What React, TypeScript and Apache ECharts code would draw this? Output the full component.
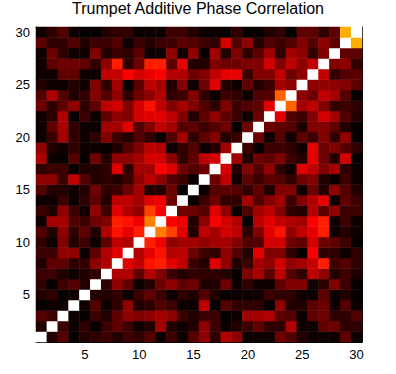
import React, { useEffect, useRef } from "react";
import * as echarts from "echarts";

const titleText = "Trumpet Additive Phase Correlation";

const categories = [
  "1", "2", "3", "4", "5", "6", "7", "8", "9", "10",
  "11", "12", "13", "14", "15", "16", "17", "18", "19", "20",
  "21", "22", "23", "24", "25", "26", "27", "28", "29", "30",
];

const tickLabels = ["5", "10", "15", "20", "25", "30"];

const diagonalValue = 1;

// Lower triangle of the symmetric correlation matrix: row r holds columns 1..r-1
const lowerRows: number[][] = [
  [],
  [0.05],
  [0.12, 0.09],
  [0.01, 0.02, 0.02],
  [0.05, 0.07, 0.01, 0.02],
  [0.07, 0.01, 0.09, 0.12, 0.05],
  [0.09, 0.09, 0.05, 0.02, 0.05, 0.07],
  [0.05, 0.14, 0.14, 0.07, 0.07, 0.21, 0.26],
  [0.09, 0.09, 0.21, 0.21, 0.02, 0.14, 0.26, 0.33],
  [0.07, 0.02, 0.19, 0.05, 0.09, 0.02, 0.14, 0.28, 0.26],
  [0.12, 0.05, 0.21, 0.07, 0.14, 0.05, 0.26, 0.40, 0.34, 0.42],
  [0.02, 0.24, 0.24, 0.12, 0.09, 0.16, 0.19, 0.42, 0.40, 0.35, 0.56],
  [0.09, 0.05, 0.21, 0.09, 0.02, 0.21, 0.09, 0.33, 0.26, 0.21, 0.47, 0.37],
  [0.02, 0.02, 0.09, 0.02, 0.07, 0.14, 0.05, 0.28, 0.28, 0.24, 0.33, 0.35, 0.16],
  [0.12, 0.05, 0.05, 0.02, 0.05, 0.16, 0.07, 0.09, 0.16, 0.24, 0.05, 0.05, 0.16, 0.01],
  [0.21, 0.21, 0.09, 0.28, 0.12, 0.05, 0.07, 0.05, 0.09, 0.21, 0.28, 0.21, 0.12, 0.09, 0.02],
  [0.07, 0.09, 0.09, 0.01, 0.05, 0.05, 0.07, 0.33, 0.07, 0.24, 0.24, 0.37, 0.33, 0.16, 0.12, 0.16],
  [0.26, 0.02, 0.01, 0.12, 0.01, 0.16, 0.05, 0.21, 0.21, 0.24, 0.31, 0.31, 0.21, 0.07, 0.14, 0.28, 0.31],
  [0.21, 0.05, 0.02, 0.07, 0.02, 0.02, 0.01, 0.05, 0.12, 0.19, 0.28, 0.26, 0.02, 0.07, 0.12, 0.02, 0.05, 0.24],
  [0.02, 0.09, 0.24, 0.07, 0.02, 0.07, 0.19, 0.09, 0.05, 0.12, 0.07, 0.01, 0.12, 0.24, 0.07, 0.14, 0.19, 0.05, 0.09],
  [0.02, 0.14, 0.24, 0.07, 0.02, 0.02, 0.24, 0.24, 0.33, 0.12, 0.19, 0.28, 0.24, 0.12, 0.14, 0.09, 0.12, 0.16, 0.01, 0.16],
  [0.02, 0.07, 0.26, 0.01, 0.09, 0.02, 0.14, 0.21, 0.19, 0.31, 0.33, 0.33, 0.28, 0.19, 0.05, 0.14, 0.21, 0.14, 0.09, 0.02, 0.16],
  [0.16, 0.07, 0.14, 0.21, 0.07, 0.14, 0.28, 0.31, 0.19, 0.31, 0.40, 0.28, 0.19, 0.24, 0.19, 0.12, 0.07, 0.19, 0.09, 0.12, 0.14, 0.33],
  [0.12, 0.26, 0.12, 0.05, 0.07, 0.19, 0.12, 0.21, 0.07, 0.16, 0.21, 0.26, 0.07, 0.09, 0.19, 0.07, 0.02, 0.09, 0.07, 0.02, 0.12, 0.12, 0.52],
  [0.05, 0.02, 0.02, 0.05, 0.02, 0.19, 0.07, 0.24, 0.01, 0.14, 0.28, 0.24, 0.05, 0.19, 0.02, 0.16, 0.33, 0.05, 0.02, 0.14, 0.05, 0.09, 0.24, 0.21],
  [0.02, 0.02, 0.14, 0.14, 0.02, 0.02, 0.28, 0.29, 0.37, 0.31, 0.34, 0.37, 0.26, 0.26, 0.16, 0.19, 0.28, 0.34, 0.34, 0.09, 0.19, 0.19, 0.28, 0.16, 0.21],
  [0.02, 0.14, 0.16, 0.16, 0.14, 0.07, 0.21, 0.42, 0.07, 0.16, 0.42, 0.42, 0.14, 0.34, 0.05, 0.05, 0.19, 0.16, 0.16, 0.19, 0.19, 0.31, 0.19, 0.28, 0.21, 0.28],
  [0.02, 0.16, 0.07, 0.02, 0.02, 0.19, 0.05, 0.09, 0.07, 0.14, 0.02, 0.02, 0.21, 0.02, 0.21, 0.01, 0.24, 0.05, 0.19, 0.07, 0.14, 0.24, 0.07, 0.24, 0.21, 0.07, 0.19],
  [0.14, 0.07, 0.07, 0.12, 0.05, 0.09, 0.09, 0.12, 0.02, 0.09, 0.05, 0.09, 0.09, 0.14, 0.12, 0.09, 0.07, 0.31, 0.12, 0.21, 0.05, 0.12, 0.09, 0.12, 0.19, 0.12, 0.21, 0.14],
  [0.02, 0.07, 0.12, 0.02, 0.01, 0.01, 0.05, 0.07, 0.07, 0.01, 0.02, 0.02, 0.09, 0.09, 0.05, 0.02, 0.02, 0.01, 0.07, 0.01, 0.01, 0.05, 0.07, 0.01, 0.14, 0.14, 0.07, 0.14, 0.63],
];

// MATLAB "hot" colormap, evenly spaced stops
const hotColors = [
  "#000000", "#550000", "#aa0000", "#ff0000", "#ff5500",
  "#ffaa00", "#ffff00", "#ffff80", "#ffffff",
];

function buildCells(): [number, number, number][] {
  const cells: [number, number, number][] = [];
  for (let r = 0; r < categories.length; r++) {
    for (let c = 0; c < categories.length; c++) {
      let v: number;
      if (r === c) v = diagonalValue;
      else if (c < r) v = lowerRows[r][c];
      else v = lowerRows[c][r];
      cells.push([c, r, v]);
    }
  }
  return cells;
}

const FONT = "Liberation Sans, Arial, Helvetica, sans-serif";

export default function App() {
  const ref = useRef<HTMLDivElement>(null);

  useEffect(() => {
    if (!ref.current) return;
    const chart = echarts.init(ref.current, undefined, { renderer: "svg" });
    const showTick = (_i: number, v: string) => tickLabels.includes(v);
    const baseAxis = {
      type: "category" as const,
      data: categories,
      axisLine: { show: true, onZero: false, lineStyle: { color: "#000", width: 1 } },
      axisTick: {
        show: true,
        inside: true,
        length: 4,
        alignWithLabel: true,
        interval: showTick,
        lineStyle: { color: "#000", width: 1 },
      },
      splitLine: { show: false },
      splitArea: { show: false },
    };
    chart.setOption({
      animation: false,
      backgroundColor: "#ffffff",
      title: {
        text: titleText,
        left: "center",
        top: 0,
        padding: 0,
        textStyle: { fontFamily: FONT, fontSize: 16, fontWeight: "normal", color: "#000" },
      },
      grid: { left: 36, top: 27, width: 326, height: 315, containLabel: false },
      xAxis: [
        {
          ...baseAxis,
          position: "bottom",
          axisLabel: {
            show: true,
            interval: showTick,
            margin: 6,
            fontFamily: FONT,
            fontSize: 13,
            color: "#000",
          },
        },
        { ...baseAxis, position: "top", axisLabel: { show: false } },
      ],
      yAxis: [
        {
          ...baseAxis,
          position: "left",
          axisLabel: {
            show: true,
            interval: showTick,
            margin: 6,
            fontFamily: FONT,
            fontSize: 13,
            color: "#000",
          },
        },
        { ...baseAxis, position: "right", axisLabel: { show: false } },
      ],
      visualMap: {
        show: false,
        min: 0,
        max: 1,
        dimension: 2,
        inRange: { color: hotColors },
      },
      series: [
        {
          type: "heatmap",
          xAxisIndex: 0,
          yAxisIndex: 0,
          data: buildCells(),
          itemStyle: { borderWidth: 0 },
          emphasis: { disabled: true },
          progressive: 0,
        },
      ],
    });
    return () => chart.dispose();
  }, []);

  return (
    <div
      ref={ref}
      style={{ position: "absolute", left: 0, top: 0, width: 396, height: 374, background: "#fff" }}
    />
  );
}
